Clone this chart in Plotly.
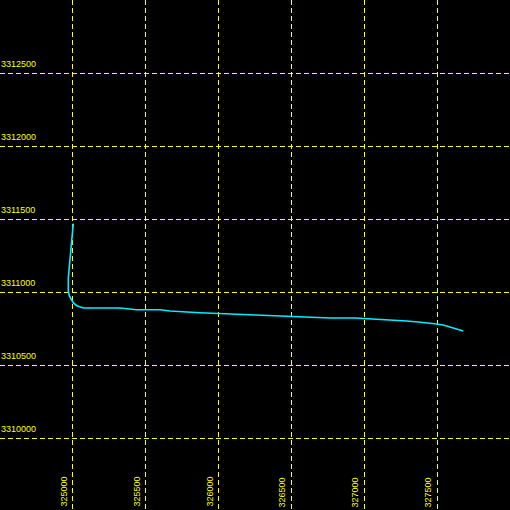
import plotly.graph_objects as go

# Track coordinates (easting, northing)
east = [325005, 325001, 324995, 324988, 324978, 324971, 324971, 324978, 324990, 325006,
        325029, 325051, 325074, 325325, 325440, 325599, 325668, 325873, 326216, 326558,
        326764, 326935, 327083, 327197, 327289, 327368, 327448, 327494, 327540, 327574,
        327608, 327642, 327677]
north = [3311468, 3311422, 3311324, 3311244, 3311153, 3311096, 3311004, 3310975, 3310952, 3310925,
         3310906, 3310897, 3310890, 3310890, 3310879, 3310879, 3310870, 3310858, 3310845, 3310831,
         3310822, 3310822, 3310815, 3310808, 3310801, 3310795, 3310788, 3310781, 3310774, 3310764,
         3310755, 3310746, 3310733]

x_ticks = [325000, 325500, 326000, 326500, 327000, 327500]
y_ticks = [3310000, 3310500, 3311000, 3311500, 3312000, 3312500]

x_range = [324503, 327997]
y_range = [3309507, 3313000]

fig = go.Figure()
fig.add_trace(go.Scatter(x=east, y=north, mode="lines",
                         line=dict(color="#00eeff", width=1.6), hoverinfo="skip"))

lab_font = dict(family="Liberation Sans, Arial, sans-serif", size=9, color="#ffff00")
annotations = []
for xv in x_ticks:
    annotations.append(dict(x=xv, y=0, xref="x", yref="paper", text=str(xv), showarrow=False,
                            textangle=-90, xanchor="right", yanchor="bottom", xshift=-2, yshift=1,
                            font=lab_font))
for yv in y_ticks:
    annotations.append(dict(x=0, y=yv, xref="paper", yref="y", text=str(yv), showarrow=False,
                            xanchor="left", yanchor="bottom", xshift=-1, yshift=2,
                            font=lab_font))

axis_common = dict(showgrid=True, gridcolor="#ffff00", gridwidth=1, griddash="5px,3px",
                   showticklabels=False, ticks="", zeroline=False, showline=False, dtick=500)

fig.update_layout(
    width=510, height=510,
    margin=dict(l=0, r=0, t=0, b=0),
    paper_bgcolor="black", plot_bgcolor="black",
    showlegend=False,
    xaxis=dict(range=x_range, tick0=325000, **axis_common),
    yaxis=dict(range=y_range, tick0=3310000, **axis_common),
    annotations=annotations,
)

fig.write_html("out.html", config={"displayModeBar": False},
               post_script="document.body.style.margin='0';document.body.style.background='black';")
